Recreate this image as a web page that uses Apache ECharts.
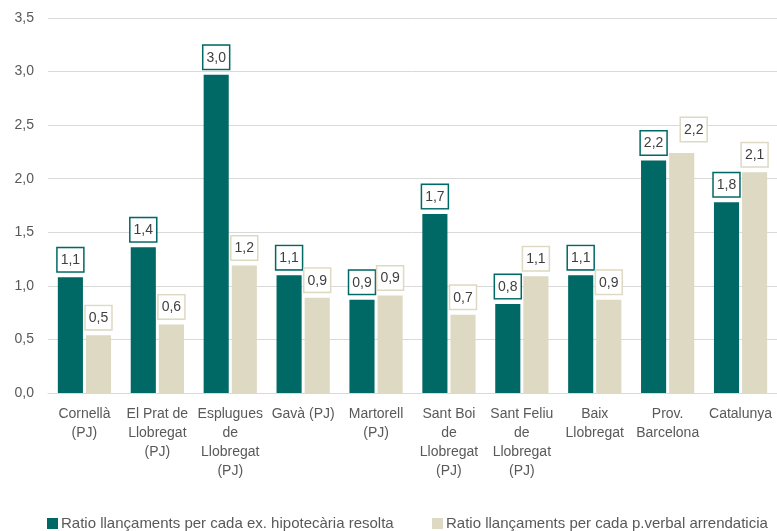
<!DOCTYPE html>
<html>
<head>
<meta charset="utf-8">
<script src="https://cdn.jsdelivr.net/npm/echarts@6/dist/echarts.min.js"></script>
<style>
  html, body { margin: 0; padding: 0; background: #fff; }
  #chart { width: 777px; height: 531px; }
</style>
</head>
<body>
<div id="chart"></div>
<script>
// dades
const categories = [
  'Cornellà\n(PJ)', 'El Prat de\nLlobregat\n(PJ)', 'Esplugues\nde\nLlobregat\n(PJ)', 'Gavà (PJ)',
  'Martorell\n(PJ)', 'Sant Boi\nde\nLlobregat\n(PJ)', 'Sant Feliu\nde\nLlobregat\n(PJ)',
  'Baix\nLlobregat', 'Prov.\nBarcelona', 'Catalunya'
];
const ratioHipotecaria = [1.08, 1.36, 2.97, 1.10, 0.87, 1.67, 0.83, 1.10, 2.17, 1.78];
const ratioArrendaticia = [0.54, 0.64, 1.19, 0.89, 0.91, 0.73, 1.09, 0.87, 2.24, 2.06];
const nomHipotecaria = 'Ratio llançaments per cada ex. hipotecària resolta';
const nomArrendaticia = 'Ratio llançaments per cada p.verbal arrendaticia';

const font = "'Liberation Sans Narrow', 'Arial Narrow', sans-serif";
const teal = '#006865';
const beige = '#ddd9c3';

function coma(v) {
  return v.toFixed(1).replace('.', ',');
}

function etiqueta(color) {
  return {
    show: true,
    position: 'top',
    distance: 6,
    formatter: p => coma(p.value),
    fontFamily: font,
    fontSize: 14,
    color: '#404040',
    backgroundColor: '#fff',
    borderColor: color,
    borderWidth: 1.5,
    padding: [5, 3, 4, 3]
  };
}

// l'etiqueta de Prov. Barcelona està desplaçada per no trepitjar l'altra
const dadesArrendaticia = ratioArrendaticia.map((v, i) =>
  i === 8 ? { value: v, label: { offset: [12, -6] } } : v
);

const legendText = { fontFamily: font, fontSize: 15, color: '#595959', padding: [0, 0, 0, -2] };

const chart = echarts.init(document.getElementById('chart'));
chart.setOption({
  animation: false,
  textStyle: { fontFamily: font },
  grid: { left: 48, right: 0, top: 18, bottom: 138 },
  legend: [
    {
      data: [nomHipotecaria], left: 47, top: 516, padding: 0,
      icon: 'rect', itemWidth: 11, itemHeight: 11, itemGap: 4,
      textStyle: legendText
    },
    {
      data: [nomArrendaticia], left: 432, top: 516, padding: 0,
      icon: 'rect', itemWidth: 11, itemHeight: 11, itemGap: 4,
      textStyle: legendText
    }
  ],
  xAxis: {
    type: 'category',
    data: categories,
    axisTick: { show: false },
    axisLine: { lineStyle: { color: '#d9d9d9', width: 1 } },
    axisLabel: {
      interval: 0, margin: 12, fontFamily: font, fontSize: 14,
      color: '#595959', lineHeight: 19
    }
  },
  yAxis: {
    type: 'value',
    min: 0, max: 3.5, interval: 0.5,
    axisLabel: {
      formatter: v => coma(v), fontFamily: font, fontSize: 14,
      color: '#595959', margin: 14
    },
    splitLine: { lineStyle: { color: '#d9d9d9', width: 1 } }
  },
  series: [
    {
      name: nomHipotecaria, type: 'bar', data: ratioHipotecaria,
      itemStyle: { color: teal }, barGap: '12%', barCategoryGap: '27%',
      label: etiqueta(teal)
    },
    {
      name: nomArrendaticia, type: 'bar', data: dadesArrendaticia,
      itemStyle: { color: beige },
      label: etiqueta(beige)
    }
  ]
});
</script>
</body>
</html>
